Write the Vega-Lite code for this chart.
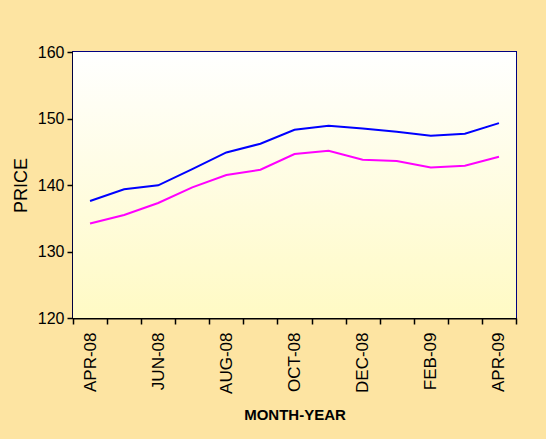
{
  "$schema": "https://vega.github.io/schema/vega-lite/v6.json",
  "width": 443,
  "height": 266,
  "autosize": "none",
  "padding": {"left": 73, "top": 52, "right": 30, "bottom": 121},
  "background": "#fde4a2",
  "config": {
    "font": "Liberation Sans",
    "view": {"stroke": "#000080", "strokeWidth": 2},
    "axis": {"grid": false, "domainColor": "#000000", "domainWidth": 2, "tickColor": "#000000", "tickWidth": 1.5, "tickSize": 6, "labelColor": "#000000", "titleColor": "#000000", "labelFont": "Liberation Sans", "titleFont": "Liberation Sans"}
  },
  "layer": [
    {
      "data": {"values": [{}]},
      "mark": {"type": "rect", "fill": {"gradient": "linear", "x1": 0, "y1": 0, "x2": 0, "y2": 1, "stops": [{"offset": 0, "color": "#ffffff"}, {"offset": 1, "color": "#fffac4"}]}},
      "encoding": {}
    },
    {
      "data": {
        "values": [
          {"month": "APR-08", "series": "A", "price": 137.6},
          {"month": "MAY-08", "series": "A", "price": 139.35},
          {"month": "JUN-08", "series": "A", "price": 139.95},
          {"month": "JUL-08", "series": "A", "price": 142.4},
          {"month": "AUG-08", "series": "A", "price": 144.9},
          {"month": "SEP-08", "series": "A", "price": 146.2},
          {"month": "OCT-08", "series": "A", "price": 148.3},
          {"month": "NOV-08", "series": "A", "price": 148.9},
          {"month": "DEC-08", "series": "A", "price": 148.5},
          {"month": "JAN-09", "series": "A", "price": 148.0},
          {"month": "FEB-09", "series": "A", "price": 147.4},
          {"month": "MAR-09", "series": "A", "price": 147.7},
          {"month": "APR-09", "series": "A", "price": 149.3},
          {"month": "APR-08", "series": "B", "price": 134.2},
          {"month": "MAY-08", "series": "B", "price": 135.5},
          {"month": "JUN-08", "series": "B", "price": 137.3},
          {"month": "JUL-08", "series": "B", "price": 139.65},
          {"month": "AUG-08", "series": "B", "price": 141.5},
          {"month": "SEP-08", "series": "B", "price": 142.3},
          {"month": "OCT-08", "series": "B", "price": 144.65},
          {"month": "NOV-08", "series": "B", "price": 145.15},
          {"month": "DEC-08", "series": "B", "price": 143.8},
          {"month": "JAN-09", "series": "B", "price": 143.6},
          {"month": "FEB-09", "series": "B", "price": 142.65},
          {"month": "MAR-09", "series": "B", "price": 142.9},
          {"month": "APR-09", "series": "B", "price": 144.25}
        ]
      },
      "mark": {"type": "line", "strokeWidth": 2},
      "encoding": {
        "x": {
          "field": "month", "type": "ordinal", "sort": null,
          "scale": {"type": "band", "paddingInner": 0, "paddingOuter": 0},
          "axis": {"title": "MONTH-YEAR", "titleFontSize": 15, "titleFontWeight": "bold", "titlePadding": 14, "labelAngle": -90, "labelFontSize": 17, "labelPadding": 8, "tickBand": "extent",
                   "labelExpr": "indexof(['APR-08','JUN-08','AUG-08','OCT-08','DEC-08','FEB-09','APR-09'], datum.value) >= 0 ? datum.value : ''"}
        },
        "y": {
          "field": "price", "type": "quantitative",
          "scale": {"domain": [120, 160], "nice": false, "zero": false},
          "axis": {"title": "PRICE", "titleFontSize": 18, "titleFontWeight": "normal", "titlePadding": 7, "labelFontSize": 16, "labelPadding": 3, "values": [120, 130, 140, 150, 160]}
        },
        "color": {"field": "series", "type": "nominal", "scale": {"range": ["#0000ff", "#ff00ff"]}, "legend": null}
      }
    }
  ]
}
